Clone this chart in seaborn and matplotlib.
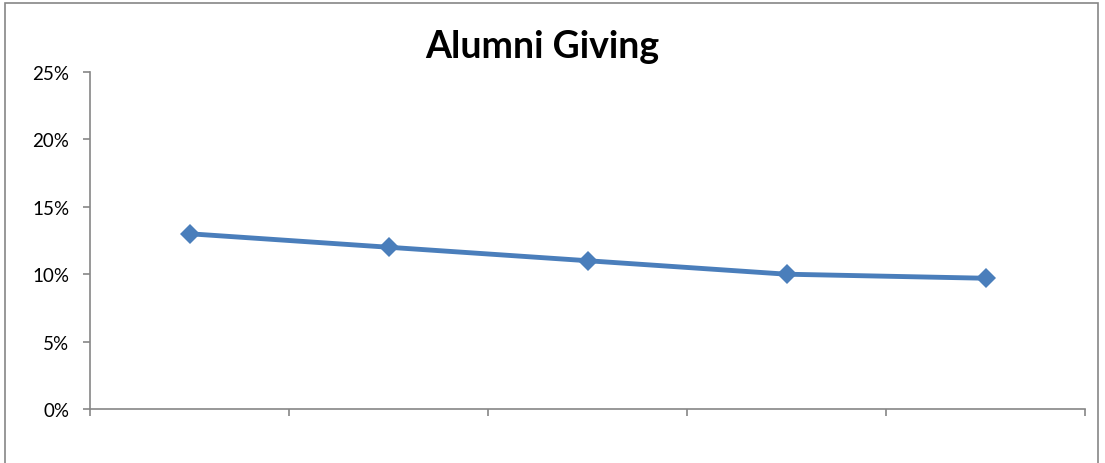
import seaborn as sns
import matplotlib.pyplot as plt
import matplotlib.patches as patches
import numpy as np
import pandas as pd
from matplotlib.ticker import FuncFormatter, MultipleLocator, FixedLocator

# data (no category labels shown)
periods = [1, 2, 3, 4, 5]
giving = [0.13, 0.12, 0.11, 0.10, 0.097]

df = pd.DataFrame({'period': periods, 'giving': giving})

sns.set_style('white')
plt.rcParams['font.family'] = ['Lato', 'DejaVu Sans']

fig = plt.figure(figsize=(11.05, 4.64), dpi=100)
ax = fig.add_axes([90 / 1105, 54 / 464, 995 / 1105, 337 / 464])

sns.lineplot(data=df, x='period', y='giving', ax=ax, color='#4A7EBB',
             linewidth=3.5, marker='D', markersize=10.5, markeredgewidth=0)

ax.set_ylim(0, 0.25)
ax.set_xlim(0.5, 5.5)
ax.yaxis.set_major_locator(MultipleLocator(0.05))
ax.yaxis.set_major_formatter(FuncFormatter(lambda v, p: f'{v * 100:.0f}%'))
ax.xaxis.set_major_locator(FixedLocator(np.arange(0.5, 6, 1)))
ax.set_xticklabels([])
ax.set_xlabel('')
ax.set_ylabel('')

for side in ['top', 'right']:
    ax.spines[side].set_visible(False)
for side in ['left', 'bottom']:
    ax.spines[side].set_color('#868686')
    ax.spines[side].set_linewidth(1.2)

ax.tick_params(axis='y', which='major', direction='out', length=5, width=1.2,
               color='#868686', labelsize=13.5, labelcolor='black', pad=10, left=True)
ax.tick_params(axis='x', which='major', direction='out', length=5, width=1.2,
               color='#868686', bottom=True)

fig.text(542 / 1105, 1 - 47 / 464, 'Alumni Giving', ha='center', va='center',
         fontsize=27, fontweight='bold', color='black')

# chart border
fig.patches.append(patches.Rectangle((5 / 1105, -0.05), 1093 / 1105, 1.05 - 4 / 464,
                                     transform=fig.transFigure, fill=False,
                                     edgecolor='#868686', linewidth=1.2))

fig.savefig('out.png', dpi=100)
